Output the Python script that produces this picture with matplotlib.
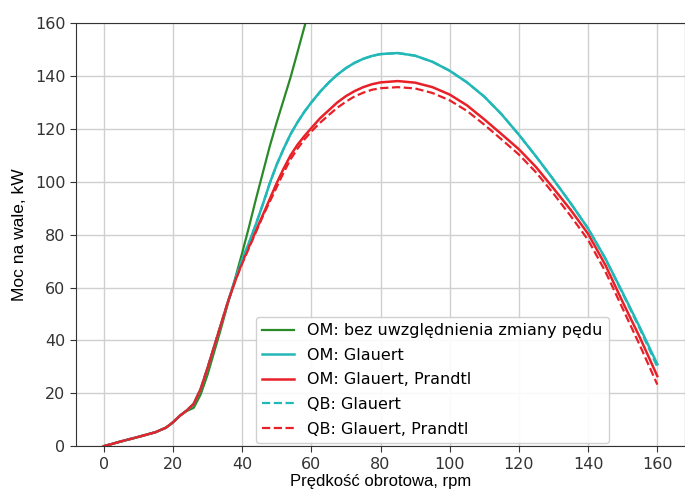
import matplotlib
matplotlib.use("Agg")
import matplotlib.pyplot as plt

# ---- data ----
rpm_green = [0, 2, 5, 10, 15, 18, 20, 22, 24, 26, 28, 30, 32, 34, 36, 38, 40,
             42, 44, 46, 48, 50, 52, 54, 56, 58.5]
p_green = [0, 0.7, 1.8, 3.5, 5.3, 7.0, 9.0, 11.5, 13.3, 14.5, 19.5, 27.0, 36.0,
           45.0, 54.5, 63.5, 73.0, 83.0, 93.5, 103.5, 113.5, 122.5, 131.0, 139.5,
           149.0, 161.0]

rpm = [0, 2, 5, 10, 15, 18, 20, 22, 24, 26, 28, 30, 32, 34, 36, 38, 40, 42, 44,
       46, 48, 50, 52, 54, 56, 58, 60, 62.5, 65, 67.5, 70, 72.5, 75, 77.5, 80,
       85, 90, 95, 100, 105, 110, 115, 120, 125, 130, 135, 140, 145, 150, 155,
       160]

p_om_glauert = [0, 0.7, 1.8, 3.5, 5.3, 7.0, 9.0, 11.5, 13.5, 16.0, 21.5, 29.5,
                38.0, 46.5, 55.0, 63.0, 70.5, 77.0, 84.0, 91.5, 99.5, 106.5,
                112.5, 118.0, 122.5, 126.5, 130.0, 134.0, 137.5, 140.5, 143.0,
                145.0, 146.5, 147.6, 148.3, 148.7, 147.7, 145.4, 142.0, 137.6,
                132.2, 125.5, 117.8, 109.5, 100.8, 91.8, 82.3, 71.0, 58.0,
                44.8, 31.0]

p_om_glauert_prandtl = [0, 0.7, 1.8, 3.5, 5.3, 7.0, 9.0, 11.5, 13.5, 16.0, 21.5,
                        29.5, 38.0, 46.5, 55.0, 62.5, 69.5, 75.5, 81.5, 87.5,
                        93.5, 99.5, 105.0, 110.0, 114.0, 117.3, 120.3, 124.0,
                        127.0, 130.0, 132.4, 134.3, 135.8, 136.9, 137.6, 138.1,
                        137.5, 135.8, 133.0, 128.9, 123.6, 118.0, 112.3, 105.5,
                        97.5, 89.3, 80.3, 68.5, 54.5, 41.0, 26.5]

p_qb_glauert = [0, 0.7, 1.8, 3.5, 5.3, 7.0, 9.0, 11.5, 13.5, 16.0, 21.5, 29.5,
                38.0, 46.5, 55.0, 63.0, 70.5, 77.0, 84.0, 91.5, 99.5, 106.5,
                112.5, 118.0, 122.5, 126.5, 130.0, 134.0, 137.5, 140.5, 143.0,
                145.0, 146.5, 147.6, 148.3, 148.7, 147.7, 145.4, 142.0, 137.6,
                132.2, 125.5, 117.8, 109.5, 100.8, 91.8, 82.3, 70.8, 57.6,
                44.2, 30.0]

p_qb_glauert_prandtl = [0, 0.7, 1.8, 3.5, 5.3, 7.0, 9.0, 11.5, 13.5, 16.0, 21.5,
                        29.5, 38.0, 46.5, 55.0, 62.5, 69.0, 75.0, 81.0, 87.0,
                        92.5, 98.0, 103.5, 108.5, 112.5, 116.0, 119.0, 122.3,
                        125.2, 128.0, 130.3, 132.3, 133.7, 134.8, 135.4, 135.8,
                        135.3, 133.6, 130.8, 126.8, 121.6, 116.0, 110.3, 103.5,
                        95.5, 87.0, 78.0, 66.0, 52.0, 38.0, 23.3]

labels = ["OM: bez uwzględnienia zmiany pędu", "OM: Glauert",
          "OM: Glauert, Prandtl", "QB: Glauert", "QB: Glauert, Prandtl"]
xticks = [0, 20, 40, 60, 80, 100, 120, 140, 160]
yticks = [0, 20, 40, 60, 80, 100, 120, 140, 160]

c_green = "#2a8a2a"
c_cyan = "#22b8b8"
c_red = "#e82028"

fig = plt.figure(figsize=(6.85, 4.93), dpi=100)
ax = fig.add_axes([0.111, 0.095, 0.889, 0.858])

ax.plot(rpm_green, p_green, color=c_green, lw=1.6, label=labels[0])
ax.plot(rpm, p_om_glauert, color=c_cyan, lw=1.8, label=labels[1])
ax.plot(rpm, p_om_glauert_prandtl, color=c_red, lw=1.8, label=labels[2])
ax.plot(rpm, p_qb_glauert, color=c_cyan, lw=1.6, ls="--", label=labels[3])
ax.plot(rpm, p_qb_glauert_prandtl, color=c_red, lw=1.6, ls="--", label=labels[4])

ax.set_xlim(-8, 168)
ax.set_ylim(0, 160)
ax.set_xticks(xticks)
ax.set_yticks(yticks)
ax.tick_params(labelsize=11.5, colors="#333333", length=4)
ax.grid(True, color="#d0d0d0", lw=1)
ax.set_axisbelow(True)
for s in ax.spines.values():
    s.set_color("#333333")

ax.set_xlabel("Prędkość obrotowa, rpm", fontsize=12, family="Liberation Sans",
              labelpad=2)
ax.set_ylabel("Moc na wale, kW", fontsize=12.5, family="Liberation Sans",
              labelpad=6)

leg = ax.legend(loc="lower left", bbox_to_anchor=(0.29, 0.0), fontsize=11.5,
                framealpha=0.9, borderaxespad=0.2, handlelength=2.0,
                labelspacing=0.6)

fig.savefig("out.png", dpi=100)
